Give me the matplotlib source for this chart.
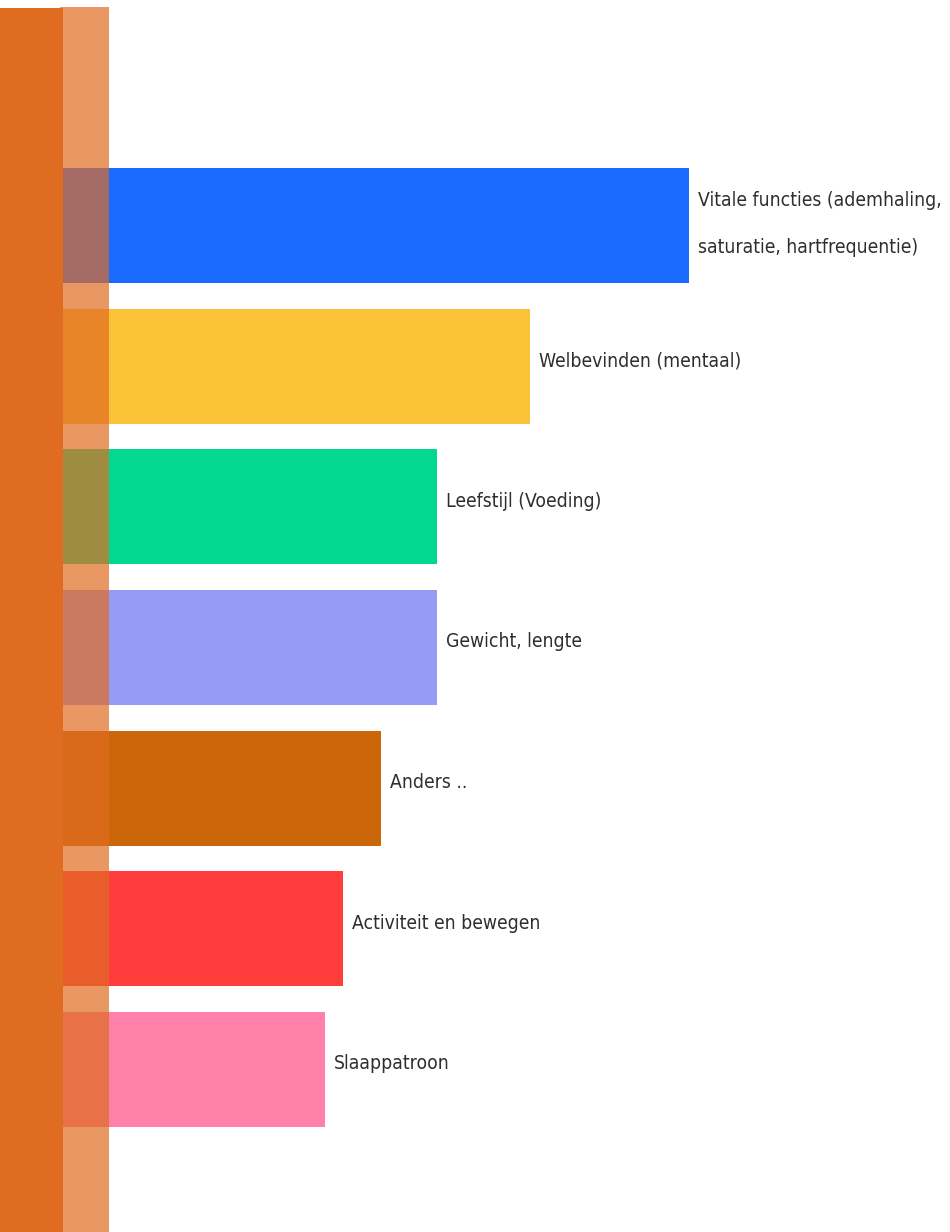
import matplotlib
matplotlib.use("Agg")
import matplotlib.pyplot as plt
from matplotlib.patches import Rectangle

# ---- data ----
categories = [
    "Vitale functies (ademhaling,\nsaturatie, hartfrequentie)",
    "Welbevinden (mentaal)",
    "Leefstijl (Voeding)",
    "Gewicht, lengte",
    "Anders ..",
    "Activiteit en bewegen",
    "Slaappatroon",
]
values = [67, 50, 40, 40, 34, 30, 28]
colors = ["#1A6AFF", "#F9C237", "#03D890", "#969CF3", "#CB660A", "#FF3D3D", "#FF80A8"]

W, H = 950, 1232
fig = plt.figure(figsize=(W / 100, H / 100), dpi=100)
fig.patch.set_facecolor("white")

# left decorative strip
strip_color = "#E06C22"
fig.add_artist(Rectangle((0, 0), 63 / W, (H - 8) / H, transform=fig.transFigure,
                         facecolor=strip_color, edgecolor="none", zorder=-1))

# axes: bars start at x=63 px
x0 = 63 / W
ax = fig.add_axes([x0, 0, 1 - x0, 1])
px_per_unit = 626 / values[0]
ax.set_xlim(0, (W - 63) / px_per_unit)
spacing = 140.7
ax.set_ylim(6 + (H - 1069.5) / spacing, -225.5 / spacing)
ax.axis("off")

ypos = list(range(len(values)))
ax.barh(ypos, values, height=115 / spacing, color=colors, edgecolor="none", zorder=2)

font_kw = dict(family="DejaVu Sans", fontstretch="condensed")

# text size fitted to the widths seen in the reference
probe1 = ax.text(0, 0, "Activiteit en bewegen", fontsize=10, **font_kw)
probe2 = ax.text(0, 0, "Vitale functies (ademhaling,", fontsize=10, **font_kw)
fig.canvas.draw()
w1 = probe1.get_window_extent().width
w2 = probe2.get_window_extent().width
probe1.remove()
probe2.remove()
fs = min(10 * 196 / w1, 10 * 245 / w2)

for y, v, lab in zip(ypos, values, categories):
    multi = "\n" in lab
    ax.text(v + 9 / px_per_unit, y - (0.01 if multi else 0.04), lab,
            va="center", ha="left", fontsize=fs, color="#2E2E2E",
            linespacing=2.9, zorder=3, **font_kw)

# translucent overlay strip
fig.add_artist(Rectangle((60 / W, 0), 49 / W, (H - 7) / H, transform=fig.transFigure,
                         facecolor=strip_color, edgecolor="none", alpha=0.7, zorder=5))

fig.savefig("out.png", dpi=100, facecolor="white")
